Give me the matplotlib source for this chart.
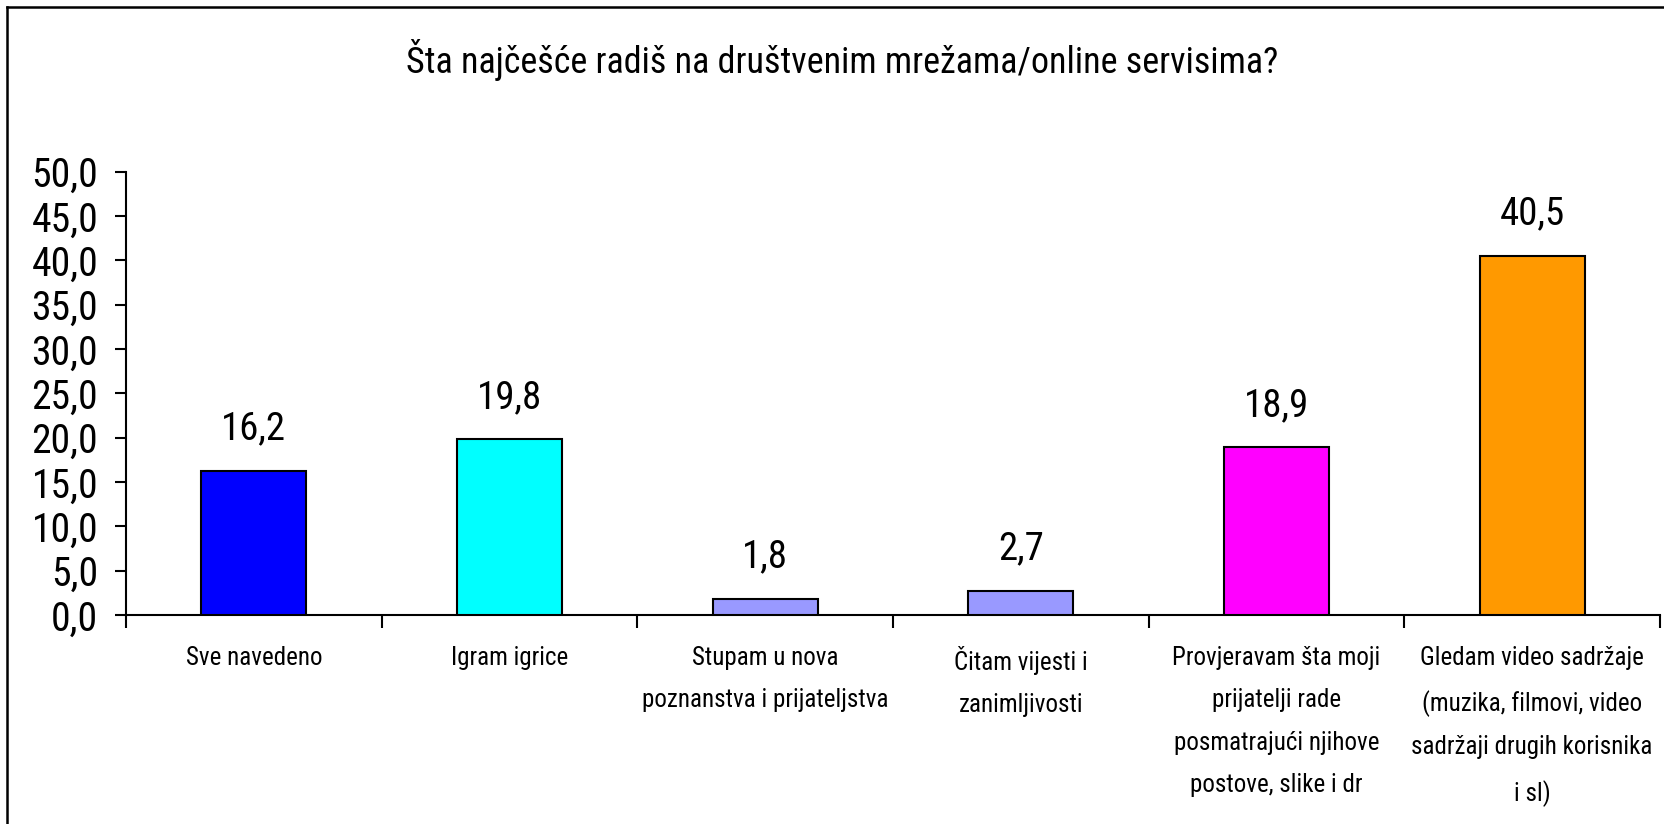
import matplotlib
matplotlib.use("Agg")
import matplotlib.pyplot as plt
from matplotlib.lines import Line2D
from matplotlib.ticker import FixedLocator, FuncFormatter
import numpy as np

title = "Šta najčešće radiš na društvenim mrežama/online servisima?"
categories = [
    "Sve navedeno",
    "Igram igrice",
    "Stupam u nova\npoznanstva i prijateljstva",
    "Čitam vijesti i\nzanimljivosti",
    "Provjeravam šta moji\nprijatelji rade\nposmatrajući njihove\npostove, slike i dr",
    "Gledam video sadržaje\n(muzika, filmovi, video\nsadržaji drugih korisnika\ni sl)",
]
values = [16.2, 19.8, 1.8, 2.7, 18.9, 40.5]
colors = ["#0000FF", "#00FFFF", "#9999FF", "#9999FF", "#FF00FF", "#FF9900"]
y_ticks = [0, 5, 10, 15, 20, 25, 30, 35, 40, 45, 50]

plt.rcParams['font.family'] = ['Liberation Sans Narrow', 'Roboto Condensed', 'Archivo Narrow', 'DejaVu Sans']

W, H = 1665, 824
fig = plt.figure(figsize=(W / 100, H / 100), dpi=100)
ax = fig.add_axes([126 / W, 1 - 615 / H, (1660 - 126) / W, (615 - 171.7) / H])

x = np.arange(len(categories))
ax.bar(x, values, width=0.41, color=colors, edgecolor="black", linewidth=1.5, zorder=3)

def fmt(v):
    return f"{v:.1f}".replace(".", ",")

for xi, v in zip(x, values):
    ax.annotate(fmt(v), (xi, v), xytext=(0, 17), textcoords="offset points",
                ha="center", va="bottom", fontsize=28)

ax.set_xlim(-0.5, len(categories) - 0.5)
ax.set_ylim(0, 50)
ax.yaxis.set_major_locator(FixedLocator(y_ticks))
ax.yaxis.set_major_formatter(FuncFormatter(lambda v, p: fmt(v)))
ax.tick_params(axis="y", labelsize=28.5, length=8, width=1.5, pad=12, direction="out")

ax.xaxis.set_major_locator(FixedLocator(np.arange(-0.5, len(categories), 1.0)))
ax.xaxis.set_major_formatter(FuncFormatter(lambda v, p: ""))
ax.tick_params(axis="x", which="major", length=9, width=1.5, direction="out")
ax.set_xticks(x, minor=True)
ax.set_xticklabels(categories, minor=True, fontsize=18, linespacing=1.98, va="top")
ax.tick_params(axis="x", which="minor", length=0, pad=22)

for s in ["top", "right"]:
    ax.spines[s].set_visible(False)
for s in ["left", "bottom"]:
    ax.spines[s].set_linewidth(1.5)

fig.text(842 / W, 1 - 73 / H, title, ha="center", va="baseline", fontsize=26)

# figure border (left and top)
fig.add_artist(Line2D([7 / W, 7 / W], [0, 1 - 7 / H], transform=fig.transFigure, color="black", linewidth=1.8))
fig.add_artist(Line2D([7 / W, 1], [1 - 7 / H, 1 - 7 / H], transform=fig.transFigure, color="black", linewidth=1.8))

fig.savefig("out.png", dpi=100, facecolor="white")
